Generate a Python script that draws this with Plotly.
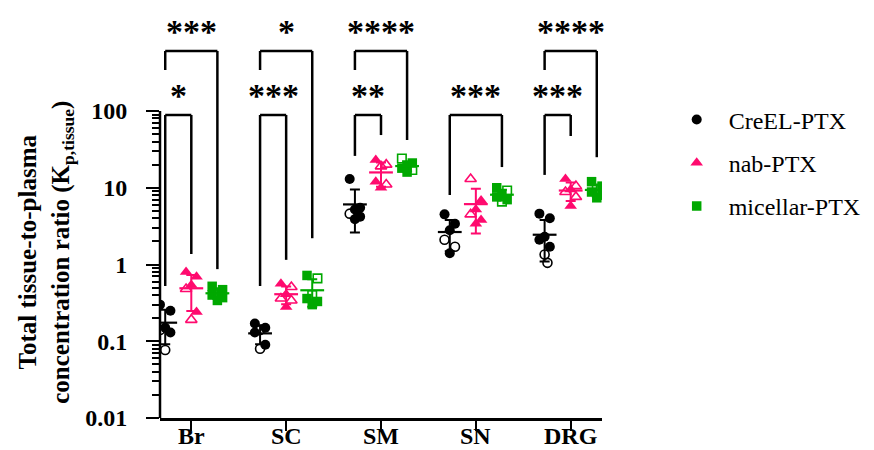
import numpy as np
import plotly.graph_objects as go

# ---------------- data ----------------
tissues = ["Br", "SC", "SM", "SN", "DRG"]
series_names = ["CreEL-PTX", "nab-PTX", "micellar-PTX"]
y_tick_vals = [0.01, 0.1, 1, 10, 100]
y_tick_text = ["0.01", "0.1", "1", "10", "100"]

creel_values = [
    [0.30, 0.25, 0.15, 0.14, 0.13, 0.077],
    [0.17, 0.15, 0.14, 0.13, 0.09, 0.08],
    [13, 5.5, 5.2, 4.6, 4.2, 3.9],
    [4.5, 3.4, 2.8, 2.1, 1.7, 1.4],
    [4.6, 4.0, 2.3, 2.1, 1.7, 1.35, 1.05],
]
creel_open = [
    [0, 0, 0, 1, 0, 1],
    [0, 0, 1, 0, 0, 1],
    [0, 0, 0, 1, 0, 0],
    [0, 0, 0, 1, 1, 0],
    [0, 0, 0, 0, 0, 1, 1],
]
nab_values = [
    [0.80, 0.69, 0.54, 0.48, 0.24, 0.19],
    [0.56, 0.51, 0.41, 0.36, 0.34, 0.28],
    [23, 20, 19, 12, 11, 10],
    [13, 6.8, 5.2, 4.5, 3.8, 3.4],
    [13, 10.5, 9.5, 8.8, 7.6, 5.8],
]
nab_open = [
    [0, 0, 0, 1, 0, 1],
    [0, 1, 0, 1, 1, 0],
    [0, 1, 1, 0, 1, 0],
    [1, 0, 0, 1, 0, 0],
    [0, 1, 0, 1, 1, 0],
]
micellar_values = [
    [0.52, 0.47, 0.43, 0.40, 0.37, 0.34],
    [0.72, 0.66, 0.40, 0.36, 0.33, 0.30],
    [24, 21, 19, 18, 17, 16],
    [10, 9.2, 8.3, 7.6, 7.0, 6.6],
    [12, 10.5, 9.5, 8.8, 8.0, 7.4],
]
micellar_open = [
    [0, 0, 1, 0, 0, 0],
    [0, 1, 1, 0, 0, 0],
    [1, 0, 0, 0, 1, 0],
    [0, 1, 0, 0, 0, 1],
    [0, 0, 1, 0, 0, 0],
]

# significance comparisons: tissue index, series a, series b, label, level
sig_tissue = [0, 0, 1, 1, 2, 2, 3, 4, 4]
sig_a = [0, 0, 0, 0, 0, 0, 0, 0, 0]
sig_b = [1, 2, 1, 2, 1, 2, 2, 1, 2]
sig_label = ["*", "***", "***", "*", "**", "****", "***", "***", "****"]
sig_level = ["inner", "outer", "inner", "outer", "inner", "outer", "inner", "inner", "outer"]
# bracket leg ends (data units): left leg end, right leg end (None = short outer leg)
sig_left_end = [0.525, None, 0.525, None, 26, None, 8.05, 14.7, None]
sig_right_end = [1.37, 0.87, 1.15, 2.2, 48.6, 41.9, 18.6, 47.2, 25]
bracket_top = {"inner": 88.7, "outer": 605}
outer_left_leg_end = 342

# ---------------- styling ----------------
colors = ["#000000", "#FF0A6E", "#00A800"]
symbols = ["circle", "triangle-up", "square"]
sizes = [10, 11, 9.5]
series_offset = [-0.275, 0.0, 0.275]
jitter = [-0.055, 0.055, 0.0, -0.055, 0.055, 0.0, 0.03]
FONT = "Liberation Serif, Times New Roman, serif"

all_values = [creel_values, nab_values, micellar_values]
all_open = [creel_open, nab_open, micellar_open]

fig = go.Figure()

for s in range(3):
    fx, fy, ox, oy = [], [], [], []
    mx, my, sd = [], [], []
    for t in range(len(tissues)):
        vals = all_values[s][t]
        opn = all_open[s][t]
        for i, (v, o) in enumerate(zip(vals, opn)):
            x = t + series_offset[s] + jitter[i % len(jitter)]
            if o:
                ox.append(x); oy.append(v)
            else:
                fx.append(x); fy.append(v)
        arr = np.array(vals, dtype=float)
        mx.append(t + series_offset[s])
        my.append(arr.mean())
        sd.append(arr.std(ddof=1))
    fig.add_trace(go.Scatter(
        x=fx, y=fy, mode="markers", name="\u00a0\u00a0" + series_names[s],
        legendgroup=series_names[s],
        marker=dict(symbol=symbols[s], size=sizes[s], color=colors[s],
                    line=dict(width=0)),
    ))
    fig.add_trace(go.Scatter(
        x=ox, y=oy, mode="markers", showlegend=False,
        legendgroup=series_names[s],
        marker=dict(symbol=symbols[s] + "-open", size=sizes[s] - 1,
                    color=colors[s], line=dict(width=1.6, color=colors[s])),
    ))
    fig.add_trace(go.Scatter(
        x=mx, y=my, mode="markers", showlegend=False,
        legendgroup=series_names[s],
        marker=dict(symbol="line-ew", size=17,
                    line=dict(width=2.2, color=colors[s])),
        error_y=dict(type="data", array=sd, color=colors[s],
                     thickness=2, width=5),
    ))

# significance brackets
shapes = []
annotations = []
LW = 2.5
for k in range(len(sig_tissue)):
    t = sig_tissue[k]
    xa = t + series_offset[sig_a[k]]
    xb = t + series_offset[sig_b[k]]
    top = bracket_top[sig_level[k]]
    left_end = sig_left_end[k] if sig_left_end[k] is not None else outer_left_leg_end
    right_end = sig_right_end[k]
    for (x0, y0, x1, y1) in [(xa, left_end, xa, top), (xa, top, xb, top), (xb, top, xb, right_end)]:
        shapes.append(dict(type="line", xref="x", yref="y", x0=x0, x1=x1, y0=y0, y1=y1,
                           line=dict(color="black", width=LW)))
    annotations.append(dict(
        x=(xa + xb) / 2, y=np.log10(top), xref="x", yref="y", text=sig_label[k],
        showarrow=False, yanchor="bottom", xanchor="center", yshift=-1,
        font=dict(family=FONT, size=34, color="black", weight="bold"),
    ))

# category labels under the x axis
for t, name in enumerate(tissues):
    annotations.append(dict(
        x=t, y=0, xref="x", yref="paper", text=name, showarrow=False,
        xanchor="center", yanchor="bottom", yshift=-33,
        font=dict(family=FONT, size=24, color="black", weight="bold"),
    ))

# y axis line (only between 0.01 and 100)
shapes.append(dict(type="line", xref="paper", yref="y", x0=0, x1=0,
                   y0=y_tick_vals[0], y1=y_tick_vals[-1],
                   line=dict(color="black", width=2.5)))

# y title
annotations.append(dict(
    x=-0.257, y=0.404, xref="paper", yref="paper", textangle=-90,
    text="Total tissue-to-plasma<br>concentration ratio (K<sub>p,tissue</sub>)",
    showarrow=False, xanchor="center", yanchor="middle", align="center",
    font=dict(family=FONT, size=25, color="black", weight="bold"),
))

minor_vals = [m * 10.0 ** d for d in range(-2, 2) for m in range(2, 10)]

fig.update_layout(
    width=874, height=450,
    margin=dict(l=152, r=280, t=0, b=40),
    plot_bgcolor="white", paper_bgcolor="white",
    shapes=shapes, annotations=annotations,
    showlegend=True,
    legend=dict(x=1.169, y=0.782, xanchor="left", yanchor="top",
                font=dict(family=FONT, size=24, color="black"),
                traceorder="grouped", tracegroupgap=9,
                bgcolor="rgba(0,0,0,0)", itemsizing="trace"),
    xaxis=dict(range=[-0.33, 4.33], tickmode="array", tickvals=list(range(len(tissues))),
               showticklabels=False, ticks="outside", ticklen=10, tickwidth=2.2,
               tickcolor="black", showline=True, linewidth=2.5, linecolor="black",
               showgrid=False, zeroline=False),
    yaxis=dict(type="log", range=[-2, 3.342], tickmode="array", tickvals=y_tick_vals,
               ticktext=y_tick_text, ticks="outside", ticklen=13, tickwidth=2.2,
               tickcolor="black", showline=False, showgrid=False, zeroline=False,
               ticklabelstandoff=14,
               minor=dict(tickmode="array", tickvals=minor_vals, ticks="outside",
                          ticklen=7, tickwidth=1.5, tickcolor="black", showgrid=False),
               tickfont=dict(family=FONT, size=24, color="black", weight="bold")),
)

fig.write_html("out.html")
